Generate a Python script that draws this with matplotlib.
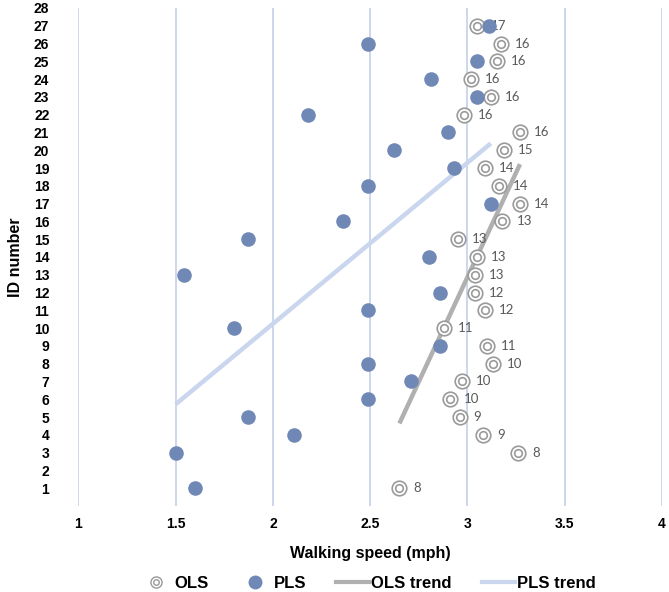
import matplotlib
matplotlib.use("Agg")
import matplotlib.pyplot as plt
import numpy as np
from matplotlib.lines import Line2D
from matplotlib.legend_handler import HandlerTuple

plt.rcParams['font.family'] = ['Liberation Sans', 'DejaVu Sans']

# ID number -> walking speed (mph)
ids = [1, 3, 4, 5, 6, 7, 8, 9, 10, 11, 12, 13, 14, 15, 16, 17, 18, 19, 20,
       21, 22, 23, 24, 25, 26, 27]
ols = [2.65, 3.26, 3.08, 2.96, 2.91, 2.97, 3.13, 3.10, 2.88, 3.09, 3.04, 3.04,
       3.05, 2.95, 3.18, 3.27, 3.16, 3.09, 3.19, 3.27, 2.98, 3.12, 3.02, 3.15,
       3.17, 3.05]
pls = [1.60, 1.50, 2.11, 1.87, 2.49, 2.71, 2.49, 2.86, 1.80, 2.49, 2.86, 1.54,
       2.80, 1.87, 2.36, 3.12, 2.49, 2.93, 2.62, 2.90, 2.18, 3.05, 2.81, 3.05,
       2.49, 3.11]
ols_labels = [8, 8, 9, 9, 10, 10, 10, 11, 11, 12, 12, 13, 13, 13, 13, 14, 14,
              14, 15, 16, 16, 16, 16, 16, 16, 17]

ids = np.array(ids)
ols = np.array(ols)
pls = np.array(pls)

grid_col = '#c8d4ea'
pls_col = '#7088b6'
ols_col = '#9a9a9a'

fig = plt.figure(figsize=(6.69, 5.92), dpi=100)
ax = fig.add_axes([0.1173, 0.1453, 0.8722, 0.8412])

# trend lines (least squares of ID on speed, over range of x)
k, b = np.polyfit(ols, ids, 1)
xo = np.array([ols.min(), ols.max()])
ax.plot(xo, k * xo + b, color='#b0b0b0', lw=3.2, solid_capstyle='butt', zorder=2)
k2, b2 = np.polyfit(pls, ids, 1)
xp = np.array([pls.min(), pls.max()])
ax.plot(xp, k2 * xp + b2, color='#c9d6ee', lw=3.2, solid_capstyle='butt', zorder=2)

# OLS double circles
ax.scatter(ols, ids, s=110, facecolor='white', edgecolor=ols_col, lw=1.2, zorder=3)
ax.scatter(ols, ids, s=30, facecolor='white', edgecolor=ols_col, lw=1.2, zorder=4)
for x, y, t in zip(ols, ids, ols_labels):
    ax.annotate(str(t), (x, y), xytext=(10, 0), textcoords='offset points',
                va='center', ha='left', fontsize=9.5, color='#595959',
                family=['Lato', 'DejaVu Sans'])

# PLS dots
ax.scatter(pls, ids, s=110, color=pls_col, lw=0, zorder=5)

ax.set_xlim(1, 4)
ax.set_ylim(0, 28)
ax.set_xticks(np.arange(1, 4.01, 0.5))
ax.set_xticklabels(['1', '1.5', '2', '2.5', '3', '3.5', '4'])
ax.set_yticks(range(1, 29))
ax.tick_params(axis='both', length=0, labelsize=10)
ax.tick_params(axis='y', pad=21)
ax.tick_params(axis='x', pad=8)
for lab in ax.get_xticklabels() + ax.get_yticklabels():
    lab.set_fontweight('bold')
ax.grid(axis='x', color=grid_col, lw=1.3)
for s in ax.spines.values():
    s.set_visible(False)

ax.set_xlabel('Walking speed (mph)', fontsize=11.5, fontweight='bold', labelpad=11)
ax.set_ylabel('ID number', fontsize=11.5, fontweight='bold', labelpad=8)

h_ols = (Line2D([], [], ls='', marker='o', ms=8, mfc='white', mec=ols_col, mew=1.0),
         Line2D([], [], ls='', marker='o', ms=4, mfc='white', mec=ols_col, mew=1.0))
h_pls = Line2D([], [], ls='', marker='o', ms=9, mfc=pls_col, mec=pls_col)
h_ot = Line2D([], [], color='#b0b0b0', lw=3)
h_pt = Line2D([], [], color='#c9d6ee', lw=3)
fig.legend([h_ols, h_pls, h_ot, h_pt], ['OLS', 'PLS', 'OLS trend', 'PLS trend'],
           handler_map={tuple: HandlerTuple(ndivide=1)},
           loc='center', bbox_to_anchor=(0.549, 0.014), ncol=4, frameon=False,
           prop={'weight': 'bold', 'size': 12}, handlelength=2.0,
           columnspacing=1.8, handletextpad=0.1)

fig.savefig('out.png', dpi=100)
